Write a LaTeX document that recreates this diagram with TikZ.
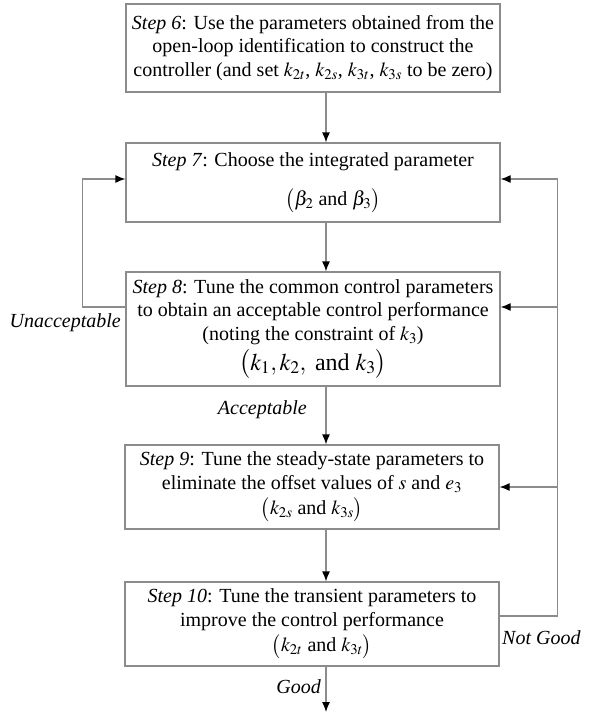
\documentclass[tikz,border=0pt]{standalone}
\usepackage{mathptmx}
\usepackage{fontspec}
\setmainfont{Liberation Serif}
\usetikzlibrary{arrows.meta,calc}
\definecolor{linegray}{HTML}{8C8C8C}
\begin{document}
\begin{tikzpicture}[x=1pt,y=-1pt,
  box/.style={draw=linegray, line width=1.2pt, minimum width=374pt, align=center, inner sep=2pt, font=\fontsize{20}{23.5}\selectfont},
  line/.style={draw=linegray, line width=1.2pt},
  arr/.style={line, -{Latex[length=10pt,width=8pt,color=black]}},
  lbl/.style={font=\fontsize{20}{24}\selectfont\itshape, inner sep=1pt}]
\useasboundingbox (0,0) rectangle (592,713);

\node[box, minimum height=88pt] (s6) at (313,48)
  {\textit{Step 6}: Use the parameters obtained from the\\ open-loop identification to construct the\\ controller (and set $k_{2t}$, $k_{2s}$, $k_{3t}$, $k_{3s}$ to be zero)};
\node[box, minimum height=79pt] (s7) at (313,182.5)
  {\textit{Step 7}: Choose the integrated parameter\\[16pt] \hspace*{40pt}$\bigl(\beta_2\mbox{ and }\beta_3\bigr)$};
\node[box, minimum height=114pt] (s8) at (313,329)
  {\textit{Step 8}: Tune the common control parameters\\ to obtain an acceptable control performance\\ (noting the constraint of $k_3$)\\[4pt] {\fontsize{24}{28}\selectfont$\bigl(k_1, k_2,\ \mbox{and}\ k_3\bigr)$}};
\node[box, minimum height=84pt] (s9) at (312,487)
  {\textit{Step 9}: Tune the steady-state parameters to\\ eliminate the offset values of $s$ and $e_3$\\[2pt] $\bigl(k_{2s}\mbox{ and }k_{3s}\bigr)$};
\node[box, minimum height=84pt] (s10) at (312,624)
  {\textit{Step 10}: Tune the transient parameters to\\ improve the control performance\\[2pt] \hspace*{20pt}$\bigl(k_{2t}\mbox{ and }k_{3t}\bigr)$};

\coordinate (ax) at (326,0);
\coordinate (endp) at (326,712);
\draw[arr] (s6.south -| ax) -- (s7.north -| ax);
\draw[arr] (s7.south -| ax) -- (s8.north -| ax);
\draw[arr] (s8.south -| ax) -- (s9.north -| ax);
\draw[arr] (s9.south -| ax) -- (s10.north -| ax);
\draw[arr] (s10.south -| ax) -- (endp);

\draw[arr] ([yshift=22pt]s8.west) -- ++(-43,0) |- ([yshift=3.5pt]s7.west);
\draw[arr] ([yshift=8pt]s10.east) -- ++(58,0) coordinate (R) |- ([yshift=3.5pt]s7.east);
\coordinate (e8) at ([yshift=22pt]s8.east);
\draw[arr] (R |- e8) -- (e8);
\draw[arr] (R |- s9.east) -- (s9.east);

\node[lbl, anchor=east] (unacc) at (122,323) {Unacceptable};
\node[lbl, anchor=east] (acc) at (308,410) {Acceptable};
\node[lbl, anchor=east] (good) at (322,687) {Good};
\node[lbl, anchor=west] (notgood) at (501,638) {Not Good};
\end{tikzpicture}
\end{document}
